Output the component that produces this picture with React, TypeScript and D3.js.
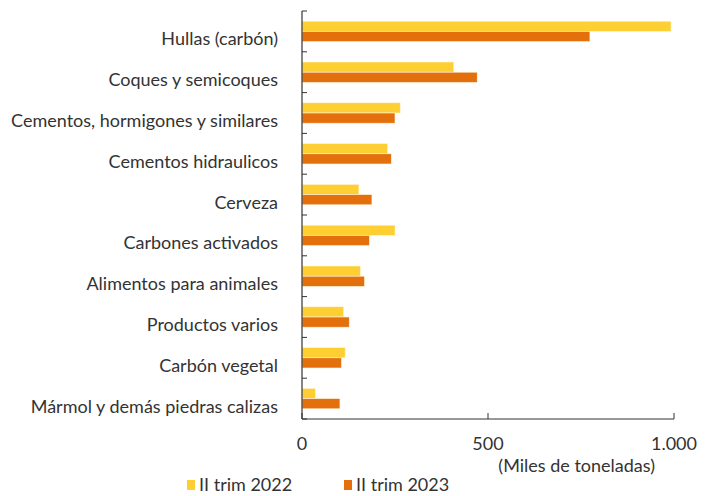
import React from "react";
import * as d3 from "d3";

const categories = [
  "Hullas (carbón)",
  "Coques y semicoques",
  "Cementos, hormigones y similares",
  "Cementos hidraulicos",
  "Cerveza",
  "Carbones activados",
  "Alimentos para animales",
  "Productos varios",
  "Carbón vegetal",
  "Mármol y demás piedras calizas",
];
const values2022 = [992, 408, 264, 230, 153, 250, 157, 112, 116, 36];
const values2023 = [774, 471, 250, 240, 188, 181, 168, 127, 106, 102];
const seriesNames = ["II trim 2022", "II trim 2023"];
const xTicks = [0, 500, 1000];
const xTickLabels = ["0", "500", "1.000"];
const unitLabel = "(Miles de toneladas)";

const colors = ["#FECF33", "#E4700D"];
const W = 711;
const H = 496;
const left = 302;
const right = 674;
const top = 11;
const bottom = 419;
const font = "Lato, 'Open Sans', sans-serif";

export default function App() {
  const x = d3.scaleLinear().domain([0, 1000]).range([left, right]);
  const y = d3.scaleBand<string>().domain(categories).range([top, bottom]).paddingInner(0.5).paddingOuter(0.25);
  const band = d3.scaleBand<string>().domain(["0", "1"]).range([0, y.bandwidth()]);
  const step = y.step();
  const boundaries = d3.range(categories.length + 1).map((i) => top + i * step);
  const series = [values2022, values2023];

  return (
    <svg width={W} height={H} style={{ position: "absolute", left: 0, top: 0, background: "#fff" }}>
      {categories.map((c, i) => (
        <g key={c}>
          {series.map((vals, s) => (
            <rect
              key={s}
              x={x(0)}
              y={(y(c) as number) + (band(String(s)) as number)}
              width={x(vals[i]) - x(0)}
              height={band.bandwidth()}
              fill={colors[s]}
              stroke="#fff3d6"
              strokeWidth={0.6}
            />
          ))}
          <text
            x={278}
            y={(y(c) as number) + y.bandwidth() / 2 + 14}
            textAnchor="end"
            fontFamily={font}
            fontSize={18}
            fill="#333"
          >
            {c}
          </text>
        </g>
      ))}
      {boundaries.map((b, i) => (
        <line key={i} x1={left} x2={left + 5} y1={b} y2={b} stroke="#333" strokeWidth={1} />
      ))}
      <line x1={left} x2={left} y1={top} y2={bottom} stroke="#333" strokeWidth={1.2} />
      <line x1={left} x2={x(1000)} y1={bottom} y2={bottom} stroke="#333" strokeWidth={1.2} />
      {xTicks.map((t, i) => (
        <g key={t}>
          <line x1={x(t)} x2={x(t)} y1={bottom} y2={bottom - 6} stroke="#333" strokeWidth={1} />
          <text x={x(t)} y={450} textAnchor="middle" fontFamily={font} fontSize={18} fill="#333">
            {xTickLabels[i]}
          </text>
        </g>
      ))}
      <text x={655} y={472} textAnchor="end" fontFamily={font} fontSize={18} fill="#333">
        {unitLabel}
      </text>
      {seriesNames.map((n, s) => {
        const lx = s === 0 ? 187 : 344;
        return (
          <g key={n}>
            <rect x={lx} y={480} width={8} height={10} fill={colors[s]} />
            <text x={lx + 12} y={491} fontFamily={font} fontSize={18} fill="#333">
              {n}
            </text>
          </g>
        );
      })}
    </svg>
  );
}
